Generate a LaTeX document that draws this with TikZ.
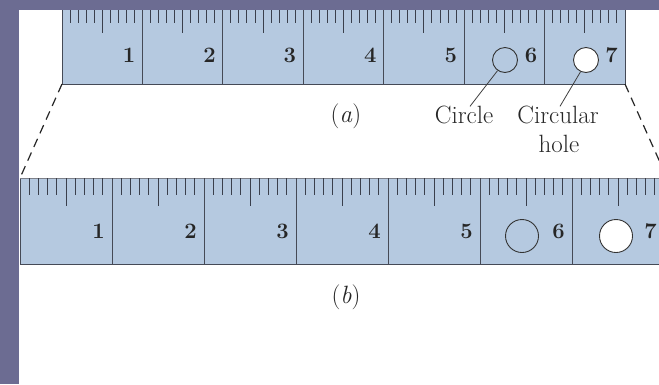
\documentclass[tikz,border=0pt]{standalone}
\usepackage{fontspec}
\usetikzlibrary{calc}
\definecolor{bgpurple}{HTML}{6C6C92}
\definecolor{rulerblue}{HTML}{B5C9E0}
\definecolor{edgegray}{HTML}{454A56}
\definecolor{tickcol}{HTML}{3A3F4C}
\begin{document}
\begin{tikzpicture}[x=1pt,y=-1pt,
  rulerbody/.style={fill=rulerblue},
  ruleredge/.style={draw=edgegray, line width=1pt},
  tickline/.style={draw=tickcol, line width=1pt},
  numlabel/.style={anchor=base east, inner sep=0pt, font=\fontsize{22}{24}\selectfont\bfseries, text=black!85},
  marka/.style={circle, draw=black!80, line width=0.9pt, minimum size=25pt, inner sep=0pt},
  markb/.style={circle, draw=black!80, line width=0.9pt, minimum size=33pt, inner sep=0pt},
  caption/.style={font=\fontsize{25}{29}\selectfont, text=black!85, inner sep=1pt},
  leader/.style={draw=black!75, line width=0.8pt},
  guide/.style={draw=black!85, line width=1.2pt, dash pattern=on 9pt off 6pt}]
\useasboundingbox (0,0) rectangle (659,384);
\fill[white] (0,0) rectangle (659,384);
\begin{scope}
\clip (0,0) rectangle (659,384);
% ---------- ruler (b) ----------
\fill[rulerbody] (20,178) rectangle (700,264);
\draw[ruleredge] (700,264) -- (20,264) -- (20,178);
\draw[draw=edgegray!70, line width=0.8pt] (20,178) -- (700,178);
\foreach \k in {1,...,7} {
  \draw[ruleredge] ({20+92*\k},178) -- ({20+92*\k},264);
  \node[numlabel] (bn\k) at ({20+92*\k-7},238) {\k};
}
\foreach \i in {1,...,72} {
  \pgfmathtruncatemacro{\r}{mod(\i,10)}
  \ifnum\r=0\relax\else
    \ifnum\r=5\relax
      \draw[tickline] ({20+9.2*\i},178) -- ({20+9.2*\i},206);
    \else
      \draw[tickline] ({20+9.2*\i},178) -- ({20+9.2*\i},195);
    \fi
  \fi
}
\node[markb, fill=none] (circB) at (522,236) {};
\node[markb, fill=white] (holeB) at (616,236) {};
% ---------- ruler (a) ----------
\fill[rulerbody] (62,5) rectangle (625,84);
\draw[ruleredge] (62,5) -- (62,84) -- (625,84) -- (625,5);
\foreach \k in {1,...,6} {
  \draw[ruleredge] ({62+80.43*\k},5) -- ({62+80.43*\k},84);
}
\foreach \k in {1,...,7} {
  \node[numlabel] (an\k) at ({62+80.43*\k-7},62) {\k};
}
\foreach \i in {1,...,69} {
  \pgfmathtruncatemacro{\r}{mod(\i,10)}
  \ifnum\r=0\relax\else
    \ifnum\r=5\relax
      \draw[tickline] ({62+8.043*\i},8) -- ({62+8.043*\i},33);
    \else
      \draw[tickline] ({62+8.043*\i},8) -- ({62+8.043*\i},23);
    \fi
  \fi
}
\node[marka, fill=none] (circA) at (505,60) {};
\node[marka, fill=white] (holeA) at (586,60) {};
% ---------- guides ----------
\coordinate (aBL) at (62,84);
\coordinate (aBR) at (625,84);
\coordinate (bTL) at (20,178);
\coordinate (bTR) at (667,178);
\draw[guide] (aBL) -- (bTL);
\draw[guide] (aBR) -- (bTR);
% ---------- labels ----------
\node[caption, anchor=base] (capA) at (346,122) {(\textit{a})};
\node[caption, anchor=base] (capB) at (346,303) {(\textit{b})};
\node[caption, anchor=base] (lblCircle) at (464,123) {Circle};
\node[caption, anchor=base] (lblHole) at (558,123) {Circular};
\node[caption, anchor=base] (lblHole2) at (559,152) {hole};
\draw[leader] ($(lblCircle.north)+(6,2)$) -- (circA.235);
\draw[leader] ($(lblHole.north)+(2,2)$) -- (holeA.245);
% ---------- purple frame ----------
\fill[bgpurple] (0,0) rectangle (659,10);
\fill[bgpurple] (0,0) rectangle (19,384);
\end{scope}
\end{tikzpicture}
\end{document}
